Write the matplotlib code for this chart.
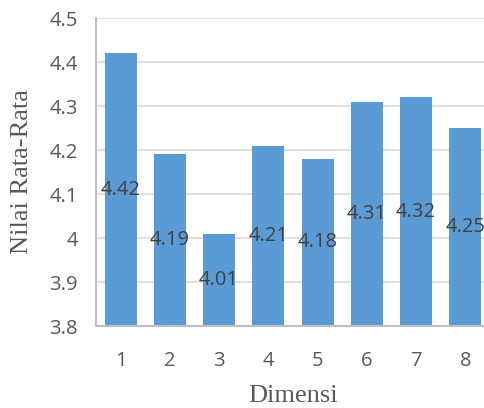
import matplotlib.pyplot as plt

# data
dimensi = ['1', '2', '3', '4', '5', '6', '7', '8']
nilai = [4.42, 4.19, 4.01, 4.21, 4.18, 4.31, 4.32, 4.25]

fig = plt.figure(figsize=(4.85, 4.08), dpi=100)
# axes runs past the right edge like the original
ax = fig.add_axes([96 / 485, 82 / 408, 394 / 485, 308 / 408])

x = range(len(dimensi))
bars = ax.bar(x, nilai, width=0.65, color='#5b9bd5', zorder=2)

ax.set_ylim(3.8, 4.5)
ax.set_xlim(-0.5, len(dimensi) - 0.5)
ax.set_yticks([3.8, 3.9, 4.0, 4.1, 4.2, 4.3, 4.4, 4.5])
ax.set_yticklabels(['3.8', '3.9', '4', '4.1', '4.2', '4.3', '4.4', '4.5'])
ax.set_xticks(list(x))
ax.set_xticklabels(dimensi)

ax.grid(axis='y', color='#d9d9d9', linewidth=1.2, zorder=0)
for s in ['top', 'right']:
    ax.spines[s].set_visible(False)
for s in ['left', 'bottom']:
    ax.spines[s].set_color('#bfbfbf')
    ax.spines[s].set_linewidth(1.5)
ax.tick_params(length=0, labelsize=14.5, labelcolor='#595959')
ax.tick_params(axis='x', pad=18)
ax.tick_params(axis='y', pad=13)
for t in ax.get_xticklabels() + ax.get_yticklabels():
    t.set_family('Open Sans')

# labels sit in the middle of the bars
ax.bar_label(bars, labels=[f'{v:g}' for v in nilai], label_type='center',
             fontsize=14.5, color='#404040', family='Open Sans', clip_on=False)

ax.set_xlabel('Dimensi', family='Liberation Serif', fontsize=19, color='#595959', labelpad=10)
ax.set_ylabel('Nilai Rata-Rata', family='Liberation Serif', fontsize=19, color='#595959', labelpad=12)

fig.savefig('out.png', dpi=100)
